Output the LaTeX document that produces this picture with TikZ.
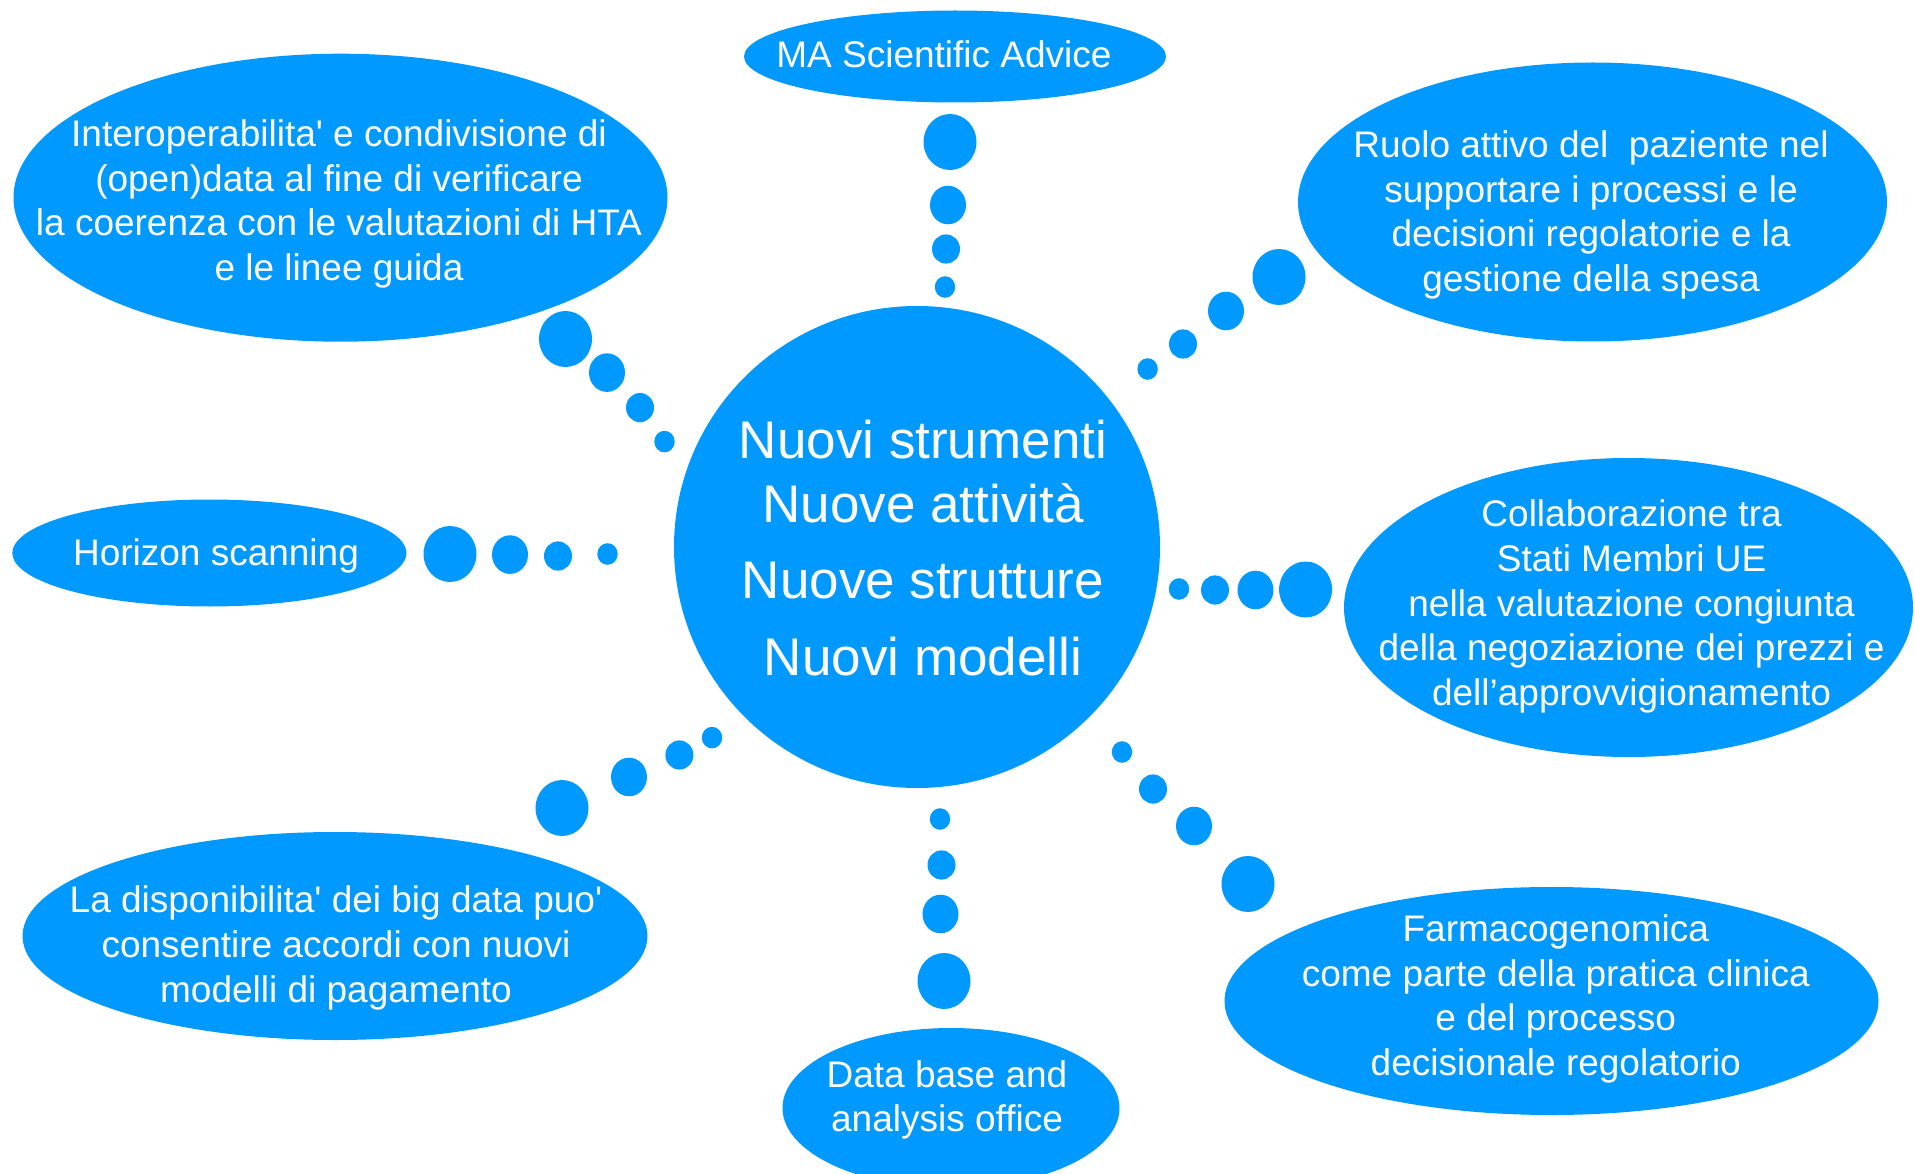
\documentclass[tikz,border=0pt]{standalone}
\usepackage{fontspec}
\setmainfont{Liberation Sans}[Ligatures=TeXOff]
\usetikzlibrary{shapes.geometric}
\definecolor{bubbleblue}{RGB}{0,153,255}

\begin{document}
\begin{tikzpicture}[x=1pt,y=1pt,yscale=-1,xscale=1,
  bubble/.style={ellipse,fill=bubbleblue,draw=none,inner sep=0pt},
  bubbletext/.style={text=white,align=center,font=\fontsize{37}{44.6}\selectfont}]
\useasboundingbox (0,0) rectangle (1915,1174);

%Shape: Circle (centre)
\node[bubble,minimum width=486,minimum height=482] (centre) at (917,547) {};
% Text Node
\node[text=white,align=center,font=\fontsize{53}{63.4}\selectfont] (centretext) at (923,548) {Nuovi strumenti\\Nuove attività\\[13.2pt]Nuove strutture\\[13.2pt]Nuovi modelli};

%Shape: Ellipse
\node[bubble,minimum width=422,minimum height=92] (advice) at (955,56.5) {};
% Text Node
\node[bubbletext] (advicetext) at (944,54.2) {MA Scientific Advice};

%Shape: Ellipse
\node[bubble,minimum width=654,minimum height=288] (interop) at (340.5,197.7) {};
% Text Node
\node[bubbletext] (interoptext) at (339,204) {Interoperabilita' e condivisione di\\(open)data al fine di verificare\\la coerenza con le valutazioni di HTA\\e le linee guida};

%Shape: Ellipse
\node[bubble,minimum width=589,minimum height=279] (paziente) at (1592.5,202) {};
% Text Node
\node[bubbletext] (pazientetext) at (1591,215) {Ruolo attivo del~ paziente nel\\supportare i processi e le\\decisioni regolatorie e la\\gestione della spesa};

%Shape: Ellipse
\node[bubble,minimum width=394,minimum height=107] (horizon) at (209.4,553) {};
% Text Node
\node[bubbletext] (horizontext) at (216,556) {Horizon scanning};

%Shape: Ellipse
\node[bubble,minimum width=569,minimum height=299] (collab) at (1628.5,607.5) {};
% Text Node
\node[bubbletext] (collabtext) at (1631.6,606.6) {Collaborazione tra\\Stati Membri UE\\nella valutazione congiunta\\della negoziazione dei prezzi e\\dell’approvvigionamento};

%Shape: Ellipse
\node[bubble,minimum width=625,minimum height=208] (bigdata) at (335,936) {};
% Text Node
\node[bubbletext] (bigdatatext) at (336,948) {La disponibilita' dei big data puo'\\consentire accordi con nuovi\\modelli di pagamento};

%Shape: Ellipse
\node[bubble,minimum width=654,minimum height=228] (farmaco) at (1551.5,1001) {};
% Text Node
\node[bubbletext] (farmacotext) at (1555.8,999) {Farmacogenomica\\come parte della pratica clinica\\e del processo\\decisionale regolatorio};

%Shape: Ellipse
\node[bubble,minimum width=337,minimum height=160] (database) at (951,1108) {};
% Text Node
\node[bubbletext,font=\fontsize{37}{43.5}\selectfont] (databasetext) at (947,1100) {Data base and\\analysis office};

%Shape: Dots to MA Scientific Advice
\fill[bubbleblue] (950,142) circle[x radius=26.5,y radius=28];
\fill[bubbleblue] (948,205) circle[x radius=18,y radius=19.3];
\fill[bubbleblue] (946,249) circle[x radius=14,y radius=14.6];
\fill[bubbleblue] (945,287) circle[x radius=10.2,y radius=10.8];

%Shape: Dots to Interoperabilita'
\fill[bubbleblue] (565.5,339) circle[x radius=26.5,y radius=28];
\fill[bubbleblue] (607,372.6) circle[x radius=18,y radius=19.3];
\fill[bubbleblue] (640,407.6) circle[x radius=14,y radius=14.6];
\fill[bubbleblue] (664.5,441.6) circle[x radius=10.2,y radius=10.8];

%Shape: Dots to Horizon scanning
\fill[bubbleblue] (450,554) circle[x radius=26.5,y radius=28];
\fill[bubbleblue] (510,554.6) circle[x radius=18,y radius=19.3];
\fill[bubbleblue] (558,556) circle[x radius=14,y radius=14.6];
\fill[bubbleblue] (607.5,554) circle[x radius=10.2,y radius=10.8];

%Shape: Dots to Ruolo attivo
\fill[bubbleblue] (1279,277) circle[x radius=26.5,y radius=28];
\fill[bubbleblue] (1226,311) circle[x radius=18,y radius=19.3];
\fill[bubbleblue] (1183,344) circle[x radius=14,y radius=14.6];
\fill[bubbleblue] (1147.6,369) circle[x radius=10.2,y radius=10.8];

%Shape: Dots to Collaborazione
\fill[bubbleblue] (1305.6,589.5) circle[x radius=26.5,y radius=28];
\fill[bubbleblue] (1255.5,590) circle[x radius=18,y radius=19.3];
\fill[bubbleblue] (1215,590) circle[x radius=14,y radius=14.6];
\fill[bubbleblue] (1179,589) circle[x radius=10.2,y radius=10.8];

%Shape: Dots to Farmacogenomica
\fill[bubbleblue] (1248,884) circle[x radius=26.5,y radius=28];
\fill[bubbleblue] (1194,826) circle[x radius=18,y radius=19.3];
\fill[bubbleblue] (1153,789) circle[x radius=14,y radius=14.6];
\fill[bubbleblue] (1122,752) circle[x radius=10.2,y radius=10.8];

%Shape: Dots to Data base
\fill[bubbleblue] (944,981) circle[x radius=26.5,y radius=28];
\fill[bubbleblue] (940.5,914) circle[x radius=18,y radius=19.3];
\fill[bubbleblue] (941.5,865) circle[x radius=14,y radius=14.6];
\fill[bubbleblue] (940,819) circle[x radius=10.2,y radius=10.8];

%Shape: Dots to big data
\fill[bubbleblue] (562,808) circle[x radius=26.5,y radius=28];
\fill[bubbleblue] (629,777) circle[x radius=18,y radius=19.3];
\fill[bubbleblue] (679.4,755) circle[x radius=14,y radius=14.6];
\fill[bubbleblue] (712,737.6) circle[x radius=10.2,y radius=10.8];

\end{tikzpicture}
\end{document}
